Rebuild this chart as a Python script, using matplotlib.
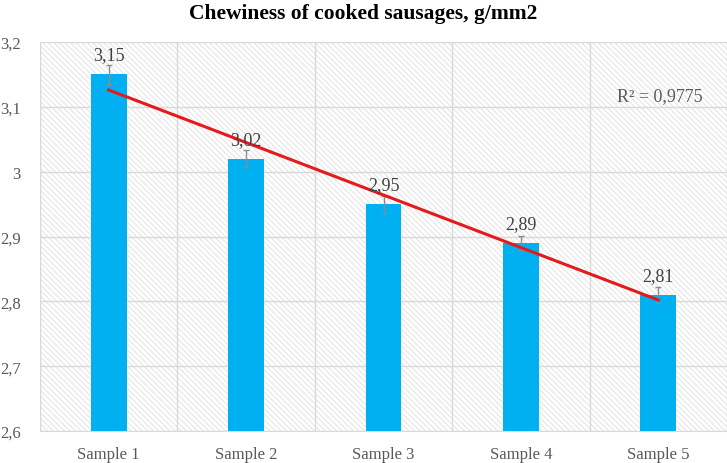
import numpy as np
import matplotlib.pyplot as plt
import matplotlib as mpl

samples = ['Sample 1', 'Sample 2', 'Sample 3', 'Sample 4', 'Sample 5']
values = [3.15, 3.02, 2.95, 2.89, 2.81]
errors = [0.015, 0.013, 0.013, 0.011, 0.012]
labels = ['3,15', '3,02', '2,95', '2,89', '2,81']
r2_text = 'R² = 0,9775'

plt.rcParams['font.family'] = ['Liberation Serif', 'DejaVu Serif']
mpl.rcParams['hatch.color'] = '#e2e2e2'
mpl.rcParams['hatch.linewidth'] = 0.7

fig = plt.figure(figsize=(7.27, 4.64), dpi=100)
ax = fig.add_axes([40 / 727, 32 / 464, 687 / 727, 389 / 464])

x = np.arange(1, len(samples) + 1)
ax.patch.set_facecolor('white')
ax.patch.set_hatch('\\\\\\\\\\\\')
ax.patch.set_edgecolor('#e2e2e2')

ax.bar(x, values, width=0.26, color='#00b0f0', zorder=3)
ax.errorbar(x, values, yerr=errors, fmt='none', ecolor='#8c8c8c',
            elinewidth=1, capsize=2.5, capthick=1, zorder=4)

# linear trend line
k, b = np.polyfit(x, values, 1)
ax.plot(x, k * x + b, color='#e41a1c', lw=2.2, zorder=5)

for xi, v, lab in zip(x, values, labels):
    ax.text(xi, v + 0.017, lab, ha='center', va='bottom', fontsize=13,
            color='#404040', zorder=6)

ax.text(4.7, 3.117, r2_text, ha='left', va='center', fontsize=13, color='#595959')

ax.set_xlim(0.5, 5.5)
ax.set_ylim(2.6, 3.2)
yt = np.arange(2.6, 3.21, 0.1)
ax.set_yticks(yt)
ax.set_yticklabels(['2,6', '2,7', '2,8', '2,9', '3', '3,1', '3,2'])
ax.set_xticks(x)
ax.set_xticklabels(samples)
ax.tick_params(axis='both', length=0, labelsize=12, colors='#595959')
ax.tick_params(axis='y', pad=14)
ax.tick_params(axis='x', pad=11)

for yv in yt:
    ax.axhline(yv, color='#d9d9d9', lw=1, zorder=1)
for xv in np.arange(0.5, 5.6, 1):
    ax.axvline(xv, color='#d9d9d9', lw=1, zorder=1)

for s in ['top', 'right', 'left']:
    ax.spines[s].set_visible(False)
ax.spines['bottom'].set_color('#d9d9d9')

fig.text(0.5, 1 - 14 / 464, 'Chewiness of cooked sausages, g/mm2', fontsize=15.5,
         fontweight='bold', ha='center', va='center')

fig.savefig('out.png', dpi=100)
